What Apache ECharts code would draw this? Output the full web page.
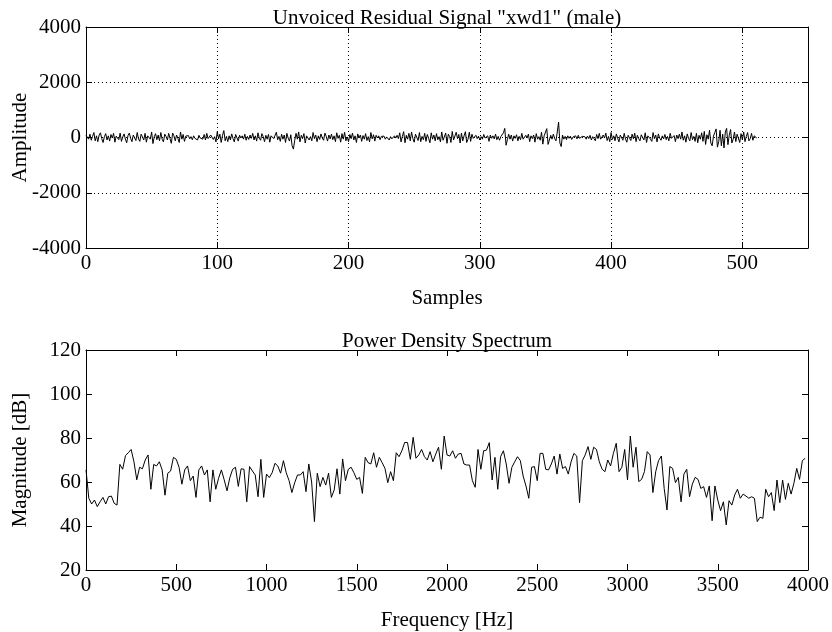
<!DOCTYPE html>
<html>
<head>
<meta charset="utf-8">
<script src="https://cdn.jsdelivr.net/npm/echarts@6/dist/echarts.min.js"></script>
<style>
  html, body { margin: 0; background: #fff; }
  #chart { width: 832px; height: 632px; }
</style>
</head>
<body>
<div id="chart"></div>
<script>
// residual signal, 512 samples (amplitude units)
const residual = [
  80,150,-60,120,-100,40,180,-120,60,-150,90,170,-40,-180,30,140,-90,60,-130,110,-20,150,-170,50,100,-80,160,-140,20,130,-60,-190,
  70,160,-30,-150,90,40,-110,180,-50,-140,120,20,-90,150,-170,60,110,-60,200,-220,30,140,-80,90,-120,180,-60,-160,120,40,-90,150,
  -40,-210,160,60,-120,90,-30,-180,200,-60,110,-140,50,-20,70,-50,30,-80,60,-30,40,-90,80,-20,50,-60,110,-90,150,-40,-110,90,
  160,-70,30,-160,210,-50,120,-180,80,250,-120,40,-150,60,-90,130,-40,-160,110,50,-130,80,-20,60,-60,120,-100,40,-70,90,-30,150,
  -90,60,-130,170,-20,-100,140,30,-150,80,-60,110,-170,60,130,-40,-110,190,-80,40,-140,120,-60,90,-180,150,-20,-130,100,-300,-420,-100,
  150,-60,200,-160,80,-40,140,-200,60,110,-90,30,-120,180,-40,90,-150,60,-70,130,-20,-100,160,40,-130,90,-50,120,-80,60,-150,170,
  -30,80,-170,140,-60,190,-120,20,-150,110,-40,160,-90,60,-180,130,-20,90,-140,70,-60,140,-110,30,-160,180,-50,100,-130,80,-20,60,
  -80,40,-30,50,-60,20,-40,-90,30,-50,-120,60,-20,80,-40,170,-160,40,210,-190,80,-60,150,-120,200,-40,-170,120,60,-110,180,-150,
  40,-80,150,-140,110,-30,-190,170,-60,90,-120,140,-80,30,-160,200,-100,-30,160,-210,120,40,-180,220,-90,-150,190,-40,110,-200,160,-120,
  60,210,-180,-60,190,-140,120,-30,-100,80,-40,50,-90,30,-60,110,-20,-80,60,-140,90,-30,60,-50,120,-80,40,-100,30,-40,170,330,
  -280,-80,120,-60,90,-130,60,-30,100,-120,40,-80,150,-60,-110,80,-20,120,-150,60,-40,90,-170,140,-60,30,-100,190,-240,60,110,320,
  -250,-300,80,-60,120,-40,-120,200,560,-200,-330,90,-60,40,-80,60,-30,50,-70,20,-40,60,-50,80,-30,-70,40,-20,30,-60,50,-40,
  80,-90,30,60,-120,110,-40,150,-60,-130,90,-20,160,-110,40,-150,180,-70,60,-120,130,-30,-160,90,20,-100,150,-60,-170,80,40,-110,
  120,-50,160,-150,80,-40,-120,100,30,-90,170,-180,60,110,-60,-140,180,-40,90,-160,130,-20,-100,60,-50,110,-80,40,-120,150,-30,-90,
  70,-150,90,-40,120,-60,200,-100,60,-170,130,-30,-120,180,-80,40,-140,150,-190,80,-60,170,-140,220,-250,100,-60,260,-200,-300,50,180,
  310,-350,-150,260,-300,120,-380,200,330,-260,80,290,-200,-60,200,-150,120,60,-180,140,-80,200,-150,40,180,-120,-40,150,-100,60,120,-20
];

// power density spectrum, 256 bins over 0..4000 Hz (dB)
const binHz = 15.625;
const spectrum = [
  65.5,52.6,50,51.8,48.8,51,53,50,53.3,53.6,50.3,49.5,68,65.8,72,73.3,74.8,69.2,61,66.7,
  66,70,72.3,56.7,68,67.3,69.2,65.5,54,64,65,71.2,70.3,66.7,59,65.5,67.3,60.6,62.7,53,
  65.5,67.3,63.2,65.5,51,65.5,56.7,61.7,65.5,61,56,62,65.8,66.7,58,66,65.8,51,67,65,
  63.2,53.3,70.3,53,63.6,62,64.2,68.5,67.3,64,69.7,64.2,60.6,55.2,59.7,63.2,63.2,64.7,55.6,68.2,
  60,42,64,57.9,62.1,58.6,64,53,56.4,66,54.5,70.5,60.6,65.8,66.7,64.2,61.2,62.1,54.8,71.2,
  68.8,68.2,73.3,66.7,71.2,68.8,66.2,59.7,64.7,60.6,73.3,71.5,74.2,78,77.9,70.3,80.3,70.8,72.3,74.8,
  71.5,70,73.8,69.2,72.7,75.8,65.8,80.9,72.3,71.8,74.2,70.8,72.7,73,68.2,67.7,67.7,60.6,57.6,74.8,
  65.8,74.2,74.5,77.9,60.9,71.2,56.7,71.5,74.2,68.2,59.4,66.7,69.2,71.5,69.7,62.7,58.2,52.6,66.7,67,
  60.6,73,73,65.8,65.5,68.2,71.8,63.6,72.7,66.2,67,63.6,69.2,73,71.8,50.6,69.7,72.3,76.1,70.3,
  75.8,74.8,69.2,65.8,64.7,70,67.3,73,77.6,64.7,66.7,74.8,60.9,80.9,66.7,75.8,60.2,61.2,64.7,73.8,
  72.3,55.2,64.7,69.7,71.8,57.1,47.3,67,66.2,59.7,62.1,51,63.6,65.8,53.3,59.1,62.1,61.2,57.1,57.9,
  53,58.2,42.4,58.2,51.8,47,51,40.5,51.5,49.5,54.1,56.7,52.6,54.5,53.6,52.6,53.3,52.6,42,44,
  43.5,56.7,53.3,55.2,47,60.9,50.6,60.9,52.1,59.4,54.5,59.4,66.2,61.2,69.7,70.8
];

const FONT = 'Liberation Serif';
const txt = { color: '#000', fontFamily: FONT, fontSize: 21 };
const black = { color: '#000', width: 1 };
const dotted = { show: true, lineStyle: { color: '#000', width: 1, type: [1, 3] } };
const plain = v => String(v);

function mainX(grid, min, max, interval, name, grid_lines) {
  return {
    type: 'value', gridIndex: grid, min: min, max: max, interval: interval, position: 'bottom',
    axisLine: { onZero: false, lineStyle: black },
    axisTick: { inside: true, length: 6, lineStyle: black },
    axisLabel: Object.assign({ margin: 5, formatter: plain, showMaxLabel: max % interval === 0 }, txt),
    splitLine: grid_lines ? dotted : { show: false },
    name: name, nameLocation: 'middle', nameGap: 40, nameTextStyle: txt
  };
}
function topX(grid, min, max, interval, title) {
  return {
    type: 'value', gridIndex: grid, min: min, max: max, interval: interval, position: 'top',
    axisLine: { onZero: false, lineStyle: black },
    axisTick: { inside: true, length: 6, lineStyle: black },
    axisLabel: { show: false }, splitLine: { show: false },
    name: title, nameLocation: 'middle', nameGap: -2, nameTextStyle: txt
  };
}
function mainY(grid, min, max, interval, name, grid_lines) {
  return {
    type: 'value', gridIndex: grid, min: min, max: max, interval: interval, position: 'left',
    axisLine: { show: true, onZero: false, lineStyle: black },
    axisTick: { show: true, inside: true, length: 6, lineStyle: black },
    axisLabel: Object.assign({ margin: 5, formatter: plain }, txt),
    splitLine: grid_lines ? dotted : { show: false },
    name: name, nameLocation: 'middle', nameGap: 55, nameMoveOverlap: false, nameTextStyle: txt
  };
}
function rightY(grid, min, max, interval) {
  return {
    type: 'value', gridIndex: grid, min: min, max: max, interval: interval, position: 'right',
    axisLine: { show: true, onZero: false, lineStyle: black },
    axisTick: { show: true, inside: true, length: 6, lineStyle: black },
    axisLabel: { show: false }, splitLine: { show: false }
  };
}

const chart = echarts.init(document.getElementById('chart'));
chart.setOption({
  animation: false,
  backgroundColor: '#fff',
  grid: [
    { left: 86, right: 24, top: 27, height: 221, outerBoundsMode: 'none' },
    { left: 86, right: 24, top: 350, height: 220, outerBoundsMode: 'none' }
  ],
  xAxis: [
    mainX(0, 0, 550, 100, 'Samples', true),
    topX(0, 0, 550, 100, 'Unvoiced Residual Signal "xwd1" (male)'),
    mainX(1, 0, 4000, 500, 'Frequency [Hz]', false),
    topX(1, 0, 4000, 500, 'Power Density Spectrum')
  ],
  yAxis: [
    mainY(0, -4000, 4000, 2000, 'Amplitude', true),
    rightY(0, -4000, 4000, 2000),
    mainY(1, 20, 120, 20, 'Magnitude [dB]', false),
    rightY(1, 20, 120, 20)
  ],
  series: [
    {
      type: 'line', xAxisIndex: 0, yAxisIndex: 0, symbol: 'none',
      lineStyle: black,
      data: residual.map((v, i) => [i, v])
    },
    {
      type: 'line', xAxisIndex: 2, yAxisIndex: 2, symbol: 'none',
      lineStyle: black,
      data: spectrum.map((v, i) => [i * binHz, v])
    }
  ]
});
</script>
</body>
</html>
